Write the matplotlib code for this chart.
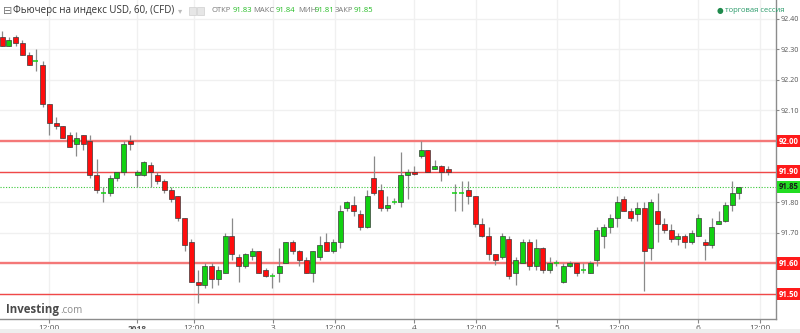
import numpy as np
import matplotlib
matplotlib.use("Agg")
import matplotlib.pyplot as plt
from matplotlib.patches import Rectangle
import matplotlib.transforms as mtransforms

plt.rcParams['font.family'] = ['Open Sans', 'DejaVu Sans']

opens = [92.34, 92.31, 92.34, 92.32, 92.28, 92.26, 92.25, 92.12, 92.06, 92.05,
         92.02, 91.99, 92.02, 92.00, 91.89, 91.83, 91.83, 91.88, 91.90, 92.00,
         91.89, 91.89, 91.92, 91.89, 91.87, 91.84, 91.82, 91.75, 91.67, 91.54,
         91.53, 91.59, 91.55, 91.57, 91.69, 91.62, 91.59, 91.625, 91.64, 91.58,
         91.56, 91.57, 91.60, 91.67, 91.64, 91.61, 91.57, 91.62, 91.67, 91.64,
         91.67, 91.78, 91.79, 91.76, 91.72, 91.88, 91.84, 91.78, 91.80, 91.80,
         91.89, 91.90, 91.95, 91.97, 91.91, 91.918, 91.91, 91.83, 91.83, 91.84,
         91.82, 91.73, 91.69, 91.63, 91.62, 91.68, 91.57, 91.60, 91.67, 91.59,
         91.65, 91.58, 91.60, 91.54, 91.59, 91.60, 91.58, 91.57, 91.61, 91.69,
         91.72, 91.75, 91.81, 91.77, 91.76, 91.78, 91.65, 91.77, 91.73, 91.71,
         91.68, 91.69, 91.67, 91.69, 91.67, 91.66, 91.73, 91.74, 91.79, 91.83]
closes = [92.31, 92.33, 92.32, 92.28, 92.25, 92.26, 92.12, 92.06, 92.05, 92.01,
          91.98, 92.01, 91.99, 91.89, 91.84, 91.83, 91.88, 91.90, 91.99, 91.99,
          91.90, 91.93, 91.90, 91.87, 91.84, 91.81, 91.75, 91.66, 91.54, 91.53,
          91.59, 91.55, 91.58, 91.69, 91.63, 91.59, 91.63, 91.64, 91.57, 91.56,
          91.56, 91.59, 91.67, 91.64, 91.61, 91.57, 91.64, 91.66, 91.64, 91.67,
          91.77, 91.80, 91.77, 91.72, 91.82, 91.83, 91.78, 91.79, 91.80, 91.89,
          91.90, 91.892, 91.97, 91.90, 91.918, 91.90, 91.90, 91.83, 91.83, 91.82,
          91.73, 91.69, 91.63, 91.61, 91.69, 91.56, 91.61, 91.67, 91.59, 91.65,
          91.58, 91.60, 91.60, 91.59, 91.60, 91.57, 91.58, 91.60, 91.71, 91.72,
          91.75, 91.80, 91.77, 91.75, 91.78, 91.64, 91.80, 91.73, 91.71, 91.68,
          91.69, 91.67, 91.70, 91.75, 91.66, 91.72, 91.74, 91.79, 91.83, 91.85]
highs = [92.36, 92.34, 92.345, 92.33, 92.29, 92.30, 92.26, 92.12, 92.08, 92.05,
         92.03, 92.03, 92.02, 92.02, 91.94, 91.85, 91.89, 91.90, 92.00, 92.02,
         91.905, 91.935, 91.93, 91.90, 91.875, 91.85, 91.82, 91.75, 91.68, 91.58,
         91.60, 91.60, 91.59, 91.70, 91.75, 91.63, 91.635, 91.65, 91.64, 91.585,
         91.57, 91.65, 91.67, 91.675, 91.645, 91.62, 91.64, 91.69, 91.70, 91.68,
         91.79, 91.805, 91.82, 91.775, 91.84, 91.95, 91.86, 91.82, 91.815, 91.965,
         91.91, 91.918, 92.00, 91.97, 91.937, 91.92, 91.918, 91.86, 91.87, 91.87,
         91.82, 91.75, 91.72, 91.63, 91.70, 91.69, 91.62, 91.68, 91.68, 91.68,
         91.655, 91.62, 91.61, 91.60, 91.607, 91.60, 91.60, 91.607, 91.72, 91.73,
         91.76, 91.82, 91.82, 91.78, 91.80, 91.80, 91.81, 91.83, 91.75, 91.73,
         91.70, 91.695, 91.71, 91.76, 91.68, 91.75, 91.77, 91.80, 91.87, 91.85]
lows = [92.31, 92.31, 92.31, 92.28, 92.25, 92.23, 92.11, 92.02, 92.04, 92.01,
        91.98, 91.95, 91.97, 91.88, 91.83, 91.80, 91.82, 91.87, 91.89, 91.97,
        91.85, 91.885, 91.85, 91.86, 91.83, 91.80, 91.74, 91.64, 91.54, 91.47,
        91.52, 91.52, 91.53, 91.57, 91.61, 91.54, 91.585, 91.61, 91.57, 91.555,
        91.52, 91.54, 91.60, 91.63, 91.59, 91.57, 91.54, 91.61, 91.64, 91.635,
        91.65, 91.77, 91.755, 91.71, 91.715, 91.825, 91.77, 91.77, 91.795, 91.785,
        91.81, 91.89, 91.945, 91.90, 91.908, 91.87, 91.89, 91.77, 91.77, 91.795,
        91.72, 91.685, 91.61, 91.594, 91.615, 91.55, 91.53, 91.60, 91.58, 91.58,
        91.57, 91.57, 91.59, 91.537, 91.587, 91.56, 91.57, 91.57, 91.59, 91.65,
        91.70, 91.72, 91.77, 91.74, 91.74, 91.51, 91.61, 91.67, 91.70, 91.67,
        91.66, 91.65, 91.665, 91.69, 91.61, 91.65, 91.73, 91.735, 91.77, 91.81]

tick_pos = [7.0, 20.0, 28.45, 40.05, 49.2, 61.0, 70.1, 82.1, 91.2, 103.0, 112.1]
tick_labels = ['12:00', '2018', '12:00', '3', '12:00', '4', '12:00', '5', '12:00', '6', '12:00']

grid_levels = [91.5, 91.6, 91.7, 91.8, 91.9, 92.0, 92.1, 92.2, 92.3, 92.4]
red_levels = [92.00, 91.90, 91.60, 91.50]
last_price = 91.85

RED = '#ff0d0d'
GREEN = '#11d111'

fig = plt.figure(figsize=(8, 3.33), dpi=100)
fig.patch.set_facecolor('white')
ax = fig.add_axes([0, 1 - 319 / 333, 776 / 800, 319 / 333])
ax.set_facecolor('white')

o = np.array(opens)
c = np.array(closes)
h = np.array(highs)
l = np.array(lows)
x = np.arange(len(o))

for gl in grid_levels:
    ax.axhline(gl, color='#f0f0f0', lw=1, zorder=0)
for tp in tick_pos:
    ax.axvline(tp, color='#f0f0f0', lw=1, zorder=0)

ax.vlines(x, l, h, color='#8a8a8a', lw=0.9, zorder=2)
up = c > o
down = c < o
flat = c == o
ax.bar(x[up], (c - o)[up], bottom=o[up], width=0.74, color=GREEN,
       edgecolor='#3a3a3a', linewidth=0.5, zorder=3)
ax.bar(x[down], (c - o)[down], bottom=o[down], width=0.74, color=RED,
       edgecolor='#3a3a3a', linewidth=0.5, zorder=3)
ax.hlines(o[flat], x[flat] - 0.37, x[flat] + 0.37, color=GREEN, lw=1.1, zorder=3)

for lv in red_levels:
    if lv in (92.00, 91.60):
        ax.axhline(lv, color='#f47878', lw=1.7, zorder=1)
    else:
        ax.axhline(lv, color='#f04848', lw=1.0, zorder=1)
ax.axhline(last_price, color='#39c839', lw=0.8, ls=(0, (1, 1.5)), zorder=1)

ax.set_xlim(-0.3, 114.5)
ax.set_ylim(91.4183, 92.4608)

ax.yaxis.tick_right()
ax.set_yticks(grid_levels)
ax.set_yticklabels(['' if g in red_levels else '%.2f' % g for g in grid_levels])
ax.tick_params(axis='y', length=2.5, width=0.8, color='#888', labelcolor='#555',
               labelsize=5.2, pad=1)
ax.set_xticks(tick_pos)
ax.set_xticklabels(tick_labels)
ax.tick_params(axis='x', length=3, width=0.8, color='#888', labelcolor='#555',
               labelsize=6, pad=1.5)
for lab in ax.get_xticklabels():
    if lab.get_text() == '2018':
        lab.set_fontweight('bold')

for s in ['left', 'top']:
    ax.spines[s].set_visible(False)
for s in ['right', 'bottom']:
    ax.spines[s].set_color('#8c8c8c')
    ax.spines[s].set_linewidth(1)

trans = mtransforms.blended_transform_factory(ax.transAxes, ax.transData)
for lv in red_levels:
    ax.text(1.0035, lv, '%.2f' % lv, transform=trans, ha='left', va='center',
            fontsize=5.6, color='white', fontweight='bold', clip_on=False,
            bbox=dict(boxstyle='square,pad=0.22', fc='#ff1a1a', ec='none'))
ax.text(1.0035, last_price, '%.2f' % last_price, transform=trans, ha='left', va='center',
        fontsize=5.6, color='#1a1a1a', fontweight='bold', clip_on=False,
        bbox=dict(boxstyle='square,pad=0.22', fc='#22dd22', ec='none'))

# header
def px(xp, yp):
    return xp / 800, 1 - yp / 333

fig.text(*px(3, 11), '\u229f', fontsize=8, color='#777', va='center', family=['DejaVu Sans'])
fig.text(*px(13, 11), 'Фьючерс на индекс USD, 60, (CFD)', fontsize=7, color='#333', va='center')
fig.text(*px(178, 11), '\u25be', fontsize=6, color='#bbb', va='center', family=['DejaVu Sans'])
fig.patches.append(Rectangle(px(189, 15), 7 / 800, 8 / 333, transform=fig.transFigure,
                             fc='#e6e6e6', ec='#cfcfcf', lw=0.5))
fig.patches.append(Rectangle(px(197, 15), 7 / 800, 8 / 333, transform=fig.transFigure,
                             fc='#e6e6e6', ec='#cfcfcf', lw=0.5))
hdr = [(212, 'ОТКР', '#777'), (233, '91.83', '#22bb22'), (253, 'МАКС', '#777'),
       (276, '91.84', '#22bb22'), (298, 'МИН', '#777'), (315, '91.81', '#22bb22'),
       (335, 'ЗАКР', '#777'), (354, '91.85', '#22bb22')]
for xp, t, col in hdr:
    fig.text(*px(xp, 11), t, fontsize=5.5, color=col, va='center')

fig.text(*px(717, 11), '\u25cf', fontsize=5.5, color='#1f8a4c', va='center', family=['DejaVu Sans'])
fig.text(*px(725, 11), 'торговая сессия', fontsize=5.5, color='#2a9a6a', va='center')

fig.text(*px(6, 309), 'Investing', fontsize=8.3, color='#4a4a4a', fontweight='bold', va='center')
fig.text(*px(60, 310.5), '.com', fontsize=7, color='#8a8a8a', va='center')

fig.patches.append(Rectangle((0, 0), 1, 4 / 333, transform=fig.transFigure,
                             fc='#eeeeee', ec='none'))

fig.savefig('out.png', dpi=100)
